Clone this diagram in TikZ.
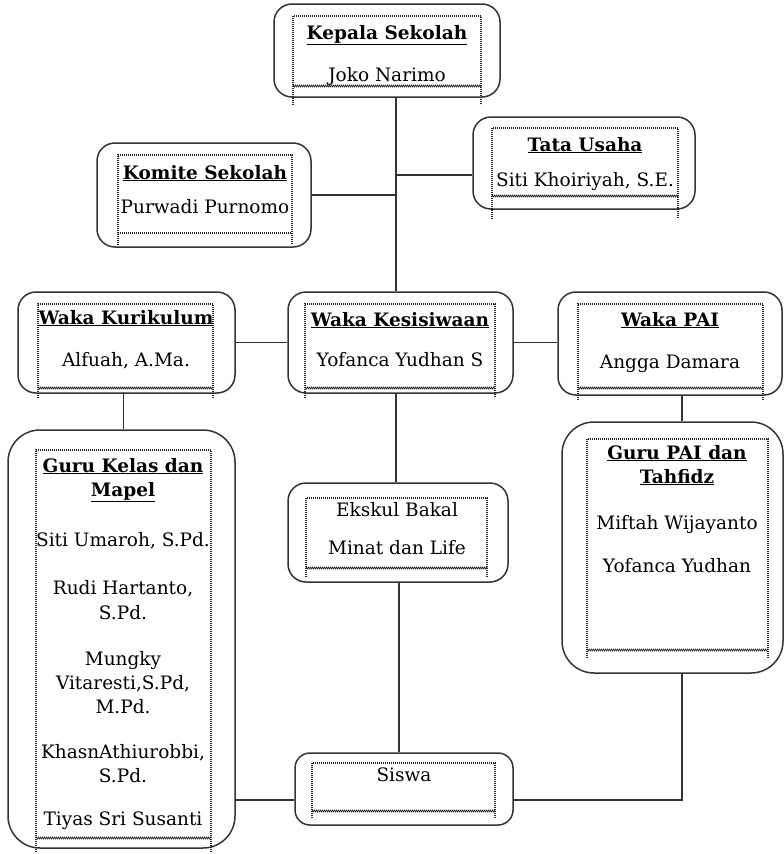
\documentclass[tikz,border=0pt]{standalone}
\usepackage{fontspec}
\setmainfont{DejaVu Serif}
\usetikzlibrary{decorations.pathmorphing}
\begin{document}
\begin{tikzpicture}[x=1pt,y=-1pt,
  box/.style={draw=black!80, line width=1.5pt, rounded corners=18pt, fill=white, inner sep=0pt},
  tallbox/.style={box, rounded corners=32pt},
  dotfr/.style={line width=1.1pt, dash pattern=on 0.9pt off 1.1pt, black!85},
  wavy/.style={decorate, decoration={zigzag, segment length=2pt, amplitude=0.9pt}, line width=0.7pt, black!85},
  lnk/.style={line width=1.4pt, black!80},
  ttl/.style={inner sep=0pt, anchor=base, font=\fontsize{18.5}{22}\selectfont\bfseries},
  txt/.style={inner sep=0pt, anchor=base, font=\fontsize{18.5}{22}\selectfont}]
\useasboundingbox (0,0) rectangle (784,854);

% outer boxes
\node[box, minimum width=226pt, minimum height=93pt] (kep) at (387,50.5) {};
\node[box, minimum width=214pt, minimum height=104pt] (kom) at (204,195) {};
\node[box, minimum width=222pt, minimum height=92pt] (tu) at (584,163) {};
\node[box, minimum width=217pt, minimum height=101pt] (kur) at (126.5,342.5) {};
\node[box, minimum width=225pt, minimum height=101pt] (kes) at (400.5,342.5) {};
\node[box, minimum width=224pt, minimum height=103pt] (pai) at (670,343.5) {};
\node[tallbox, minimum width=227pt, minimum height=418pt] (gk) at (121.5,639) {};
\node[box, minimum width=220pt, minimum height=99pt] (eks) at (398,532.5) {};
\node[tallbox, minimum width=221pt, minimum height=251pt] (gpai) at (672.5,547.5) {};
\node[box, rounded corners=15pt, minimum width=218pt, minimum height=72pt] (sis) at (404,789) {};

% dotted inner frames
\draw[dotfr] (293,105) -- (293,16) -- (481,16) -- (481,105);
\draw[wavy] (293,86) -- (481,86);
\draw[dotfr] (118,245) -- (118,155) -- (292,155) -- (292,245);
\draw[dotfr] (118,233) -- (292,233);
\draw[dotfr] (492,219) -- (492,128) -- (678,128) -- (678,219);
\draw[wavy] (492,196) -- (678,196);
\draw[dotfr] (38,398) -- (38,304) -- (213,304) -- (213,398);
\draw[wavy] (38,388) -- (213,388);
\draw[dotfr] (305,398) -- (305,304) -- (495,304) -- (495,398);
\draw[wavy] (305,388) -- (495,388);
\draw[dotfr] (578,400) -- (578,304) -- (763,304) -- (763,400);
\draw[wavy] (578,388) -- (763,388);
\draw[dotfr] (36,852) -- (36,450) -- (211,450) -- (211,852);
\draw[wavy] (36,838) -- (211,838);
\draw[dotfr] (306,577) -- (306,498) -- (487,498) -- (487,577);
\draw[wavy] (306,568) -- (487,568);
\draw[dotfr] (587,658) -- (587,439) -- (768,439) -- (768,658);
\draw[wavy] (587,650) -- (768,650);
\draw[dotfr] (312,818) -- (312,763) -- (495,763) -- (495,818);
\draw[wavy] (312,811) -- (495,811);

% texts
\node[ttl] (kepT) at (387,39) {\underline{Kepala Sekolah}};
\node[txt] (kepN) at (387,81) {Joko Narimo};
\node[ttl] (komT) at (205,179) {\underline{Komite Sekolah}};
\node[txt] (komN) at (205,213) {Purwadi Purnomo};
\node[ttl] (tuT) at (585,151) {\underline{Tata Usaha}};
\node[txt] (tuN) at (585,186) {Siti Khoiriyah, S.E.};
\node[ttl] (kurT) at (126,324) {\underline{Waka Kurikulum}};
\node[txt] (kurN) at (126,366) {Alfuah, A.Ma.};
\node[ttl] (kesT) at (400,326) {\underline{Waka Kesisiwaan}};
\node[txt] (kesN) at (400,366) {Yofanca Yudhan S};
\node[ttl] (paiT) at (670,326) {\underline{Waka PAI}};
\node[txt] (paiN) at (670,368) {Angga Damara};
\node[ttl] (gkT1) at (123,472) {\underline{Guru Kelas dan}};
\node[ttl] (gkT2) at (123,496) {\underline{Mapel}};
\node[txt] (gk1) at (123,546) {Siti Umaroh, S.Pd.};
\node[txt] (gk2) at (123,594) {Rudi Hartanto,};
\node[txt] (gk3) at (123,619) {S.Pd.};
\node[txt] (gk4) at (123,665) {Mungky};
\node[txt] (gk5) at (123,689) {Vitaresti,S.Pd,};
\node[txt] (gk6) at (123,713) {M.Pd.};
\node[txt] (gk7) at (123,758) {KhasnAthiurobbi,};
\node[txt] (gk8) at (123,782) {S.Pd.};
\node[txt] (gk9) at (123,825) {Tiyas Sri Susanti};
\node[txt] (eks1) at (397,516) {Ekskul Bakal};
\node[txt] (eks2) at (397,554) {Minat dan Life};
\node[ttl] (gpT1) at (677,459) {\underline{Guru PAI dan}};
\node[ttl] (gpT2) at (677,483) {\underline{Tahfidz}};
\node[txt] (gp1) at (677,529) {Miftah Wijayanto};
\node[txt] (gp2) at (677,572) {Yofanca Yudhan};
\node[txt] (sisT) at (404,781) {Siswa};

% junction coordinates
\coordinate (spine) at (396,0);
\coordinate (pspine) at (682,0);
\coordinate (tuy) at (0,175);
\coordinate (bot) at (0,800);

% connectors
\draw[lnk] (kep.south -| spine) -- (kes.north -| spine);
\draw[lnk] (kom.east) -- (kom.east -| spine);
\draw[lnk] (spine |- tuy) -- (tu.west |- tuy);
\draw[lnk] (kur.east) -- (kes.west |- kur.east);
\draw[lnk] (kes.east) -- (pai.west |- kes.east);
\draw[lnk] (gk.north -| kur.south) ++(-3,0) -- ++(0,-37);
\draw[lnk] (kes.south -| spine) -- (eks.north -| spine);
\draw[lnk] (eks.south) ++(1,0) -- (sis.north -| 399,0);
\draw[lnk] (pai.south -| pspine) -- (gpai.north -| pspine);
\draw[lnk] (gpai.south -| pspine) -- (pspine |- bot) -- (sis.east |- bot);
\draw[lnk] (gk.east |- bot) -- (sis.west |- bot);
\end{tikzpicture}
\end{document}
